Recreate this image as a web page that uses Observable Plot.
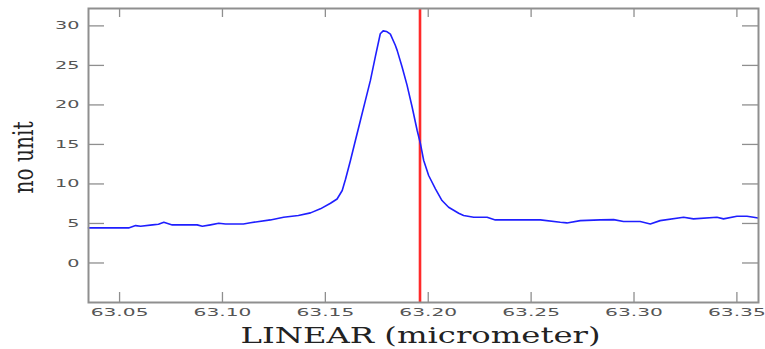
<!DOCTYPE html>
<html>
<head>
<meta charset="utf-8">
<script src="https://cdn.jsdelivr.net/npm/d3@7"></script>
<script src="https://cdn.jsdelivr.net/npm/@observablehq/plot@0.6"></script>
<style>
  html, body { margin: 0; padding: 0; background: #fff; }
</style>
</head>
<body>
<div id="chart"></div>
<script>
// Spectrum samples (wavelength in micrometer, value in no unit)
const wavelength = [
  63.0349, 63.0544, 63.0578, 63.0602, 63.0660, 63.0689, 63.0715, 63.0756, 63.0877, 63.0902,
  63.0942, 63.0982, 63.1015, 63.1102, 63.1136, 63.1233, 63.1297, 63.1369, 63.1428, 63.1476,
  63.1525, 63.1557, 63.1582, 63.1598, 63.1622, 63.1646, 63.1670, 63.1695, 63.1719, 63.1743,
  63.1767, 63.1781, 63.1797, 63.1816, 63.1840, 63.1849, 63.1873, 63.1897, 63.1922, 63.1946,
  63.1962, 63.1978, 63.2002, 63.2035, 63.2067, 63.2099, 63.2148, 63.2172, 63.2221, 63.2286,
  63.2326, 63.2545, 63.2642, 63.2674, 63.2739, 63.2836, 63.2901, 63.2949, 63.3030, 63.3079,
  63.3127, 63.3241, 63.3289, 63.3403, 63.3435, 63.3500, 63.3549, 63.3581, 63.3603
];
const flux = [
  4.44, 4.44, 4.73, 4.64, 4.82, 4.90, 5.15, 4.82, 4.82, 4.64,
  4.82, 5.02, 4.94, 4.94, 5.10, 5.45, 5.78, 6.00, 6.34, 6.85,
  7.56, 8.10, 9.17, 10.6, 12.97, 15.5, 18.0, 20.6, 23.1, 26.1,
  29.0, 29.37, 29.3, 28.95, 27.55, 26.9, 24.8, 22.5, 19.7, 16.8,
  15.1, 12.97, 11.07, 9.38, 7.9, 7.05, 6.29, 6.0, 5.78, 5.78,
  5.45, 5.45, 5.15, 5.07, 5.36, 5.45, 5.49, 5.24, 5.24, 4.94,
  5.36, 5.78, 5.58, 5.78, 5.58, 5.91, 5.91, 5.78, 5.7
];
const xTicks = [63.05, 63.10, 63.15, 63.20, 63.25, 63.30, 63.35];
const yTicks = [0, 5, 10, 15, 20, 25, 30];
const markerWavelength = [63.196];
const xDomain = [63.0349, 63.3605];
const yDomain = [-5, 32.2];
const xLabel = "LINEAR (micrometer)";
const yLabel = "no unit";

const data = wavelength.map((w, i) => ({w, v: flux[i]}));

const W = 765, H = 349, mL = 88, mR = 7, mT = 8, mB = 47;
const frameW = W - mL - mR, frameH = H - mT - mB;

const gray = "#8f8f8f";
const tickFont = "'DejaVu Sans', sans-serif";

const plot = Plot.plot({
  width: W, height: H,
  marginLeft: mL, marginRight: mR, marginTop: mT, marginBottom: mB,
  style: {background: "#fff", fontFamily: tickFont, fontSize: "11px"},
  x: {domain: xDomain},
  y: {domain: yDomain},
  marks: [
    // inner ticks
    Plot.tickY(yTicks, {y: d => d, stroke: gray, strokeWidth: 1.3, insetRight: frameW - 16}),
    Plot.tickY(yTicks, {y: d => d, stroke: gray, strokeWidth: 1.3, insetLeft: frameW - 16}),
    Plot.tickX(xTicks, {x: d => d, stroke: gray, strokeWidth: 1.3, insetTop: frameH - 10}),
    Plot.tickX(xTicks, {x: d => d, stroke: gray, strokeWidth: 1.3, insetBottom: frameH - 9}),
    Plot.axisX(xTicks, {tickSize: 0, tickPadding: 6, tickFormat: d => d.toFixed(2), fill: "#555", fontSize: 11, label: null}),
    Plot.axisY(yTicks, {tickSize: 0, tickPadding: 9, tickFormat: d => String(d), fill: "#555", fontSize: 11, label: null}),
    Plot.ruleX(markerWavelength, {stroke: "#ff2a2a", strokeWidth: 2.6}),
    Plot.line(data, {x: "w", y: "v", stroke: "#1f1fff", strokeWidth: 1.6}),
    Plot.frame({stroke: gray, strokeWidth: 2}),
    Plot.text([xLabel], {frameAnchor: "bottom", dx: -183, dy: 40, textAnchor: "start", lineAnchor: "bottom", fontFamily: "'DejaVu Serif', serif", fontSize: 22, fill: "#222", text: d => d}),
    Plot.text([yLabel], {frameAnchor: "left", dx: -64, dy: 38, rotate: -90, textAnchor: "start", lineAnchor: "middle", fontFamily: "'DejaVu Serif', serif", fontSize: 27, fill: "#222", text: d => d})
  ]
});

// stretch text glyphs to match the reference's wide rendering
plot.querySelectorAll("text").forEach(t => {
  const s = t.textContent.trim();
  let len = null;
  if (/^[\d.]+$/.test(s)) {
    const digits = (s.match(/\d/g) || []).length;
    const dots = (s.match(/\./g) || []).length;
    len = digits * 12.2 + dots * 9;
  } else if (s === xLabel) {
    len = 360;
  } else if (s === yLabel) {
    len = 72;
  }
  if (len) {
    t.setAttribute("textLength", len);
    t.setAttribute("lengthAdjust", "spacingAndGlyphs");
  }
});

document.getElementById("chart").appendChild(plot);
</script>
</body>
</html>
